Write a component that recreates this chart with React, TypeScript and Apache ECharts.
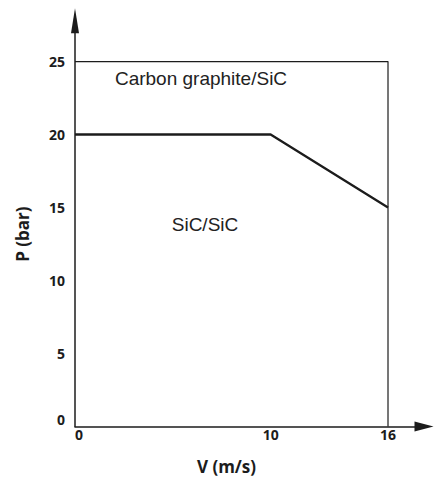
import React, { useEffect, useRef } from "react";
import * as echarts from "echarts";

// Data
const boundaryV = [0, 10, 16];
const boundaryP = [20, 20, 15];
const frameV = [0, 16, 16];
const frameP = [25, 25, 0];
const xTickValues = [0, 10, 16];
const yTickValues = [0, 5, 10, 15, 20, 25];
const regionLabels = ["Carbon graphite/SiC", "SiC/SiC"];
const xAxisName = "V (m/s)";
const yAxisName = "P (bar)";

const INK = "#1c1c1c";
const TICK_FONT = '"Open Sans", "Noto Sans", sans-serif';

export default function App() {
  const ref = useRef<HTMLDivElement>(null);

  useEffect(() => {
    if (!ref.current) return;
    const chart = echarts.init(ref.current, undefined, { renderer: "svg" });
    const boundary = boundaryV.map((v, i) => [v, boundaryP[i]]);
    const frame = frameV.map((v, i) => [v, frameP[i]]);

    chart.setOption({
      animation: false,
      backgroundColor: "#ffffff",
      grid: {
        left: 75,
        right: 10,
        top: 20.8,
        bottom: 56.5,
        containLabel: false,
        outerBoundsMode: "none",
      },
      xAxis: {
        type: "value",
        min: 0,
        max: 17.84,
        name: xAxisName,
        nameLocation: "middle",
        nameGap: 31,
        nameTextStyle: {
          fontFamily: TICK_FONT,
          fontWeight: "bold",
          fontSize: 17,
          color: INK,
          padding: [0, 46, 0, 0],
        },
        axisLine: {
          show: true,
          onZero: true,
          symbol: ["none", "triangle"],
          symbolSize: [10, 19],
          lineStyle: { color: INK, width: 1.5 },
        },
        axisTick: { show: false },
        splitLine: { show: false },
        axisLabel: {
          customValues: xTickValues,
          alignMinLabel: "left",
          margin: 1,
          fontFamily: TICK_FONT,
          fontWeight: "bold",
          fontSize: 14,
          color: INK,
        },
      },
      yAxis: {
        type: "value",
        min: 0,
        max: 27.79,
        name: yAxisName,
        nameLocation: "middle",
        nameGap: 44,
        nameRotate: 90,
        nameTextStyle: {
          fontFamily: TICK_FONT,
          fontWeight: "bold",
          fontSize: 17,
          color: INK,
          padding: [0, 21, 0, 0],
        },
        axisLine: {
          show: true,
          onZero: true,
          symbol: ["none", "triangle"],
          symbolSize: [8, 25],
          lineStyle: { color: INK, width: 1.5 },
        },
        axisTick: { show: false },
        splitLine: { show: false },
        axisLabel: {
          customValues: yTickValues,
          verticalAlignMinLabel: "bottom",
          margin: 10,
          fontFamily: TICK_FONT,
          fontWeight: "bold",
          fontSize: 14,
          color: INK,
        },
      },
      series: [
        {
          type: "line",
          data: frame,
          showSymbol: false,
          symbol: "none",
          lineStyle: { color: INK, width: 1.2 },
          silent: true,
        },
        {
          type: "line",
          data: boundary,
          showSymbol: false,
          symbol: "none",
          lineStyle: { color: INK, width: 2.3 },
          silent: true,
        },
      ],
      graphic: [
        {
          type: "text",
          x: 201,
          y: 78,
          style: {
            text: regionLabels[0],
            fontFamily: '"Liberation Sans", Arial, sans-serif',
            fontSize: 19,
            fill: "#222",
            align: "center",
            verticalAlign: "middle",
          },
        },
        {
          type: "text",
          x: 205,
          y: 224,
          style: {
            text: regionLabels[1],
            fontFamily: '"Liberation Sans", Arial, sans-serif',
            fontSize: 19,
            fill: "#222",
            align: "center",
            verticalAlign: "middle",
          },
        },
      ],
    });

    return () => chart.dispose();
  }, []);

  return (
    <div
      ref={ref}
      style={{ position: "fixed", left: 0, top: 0, width: 434, height: 483, background: "#fff" }}
    />
  );
}
